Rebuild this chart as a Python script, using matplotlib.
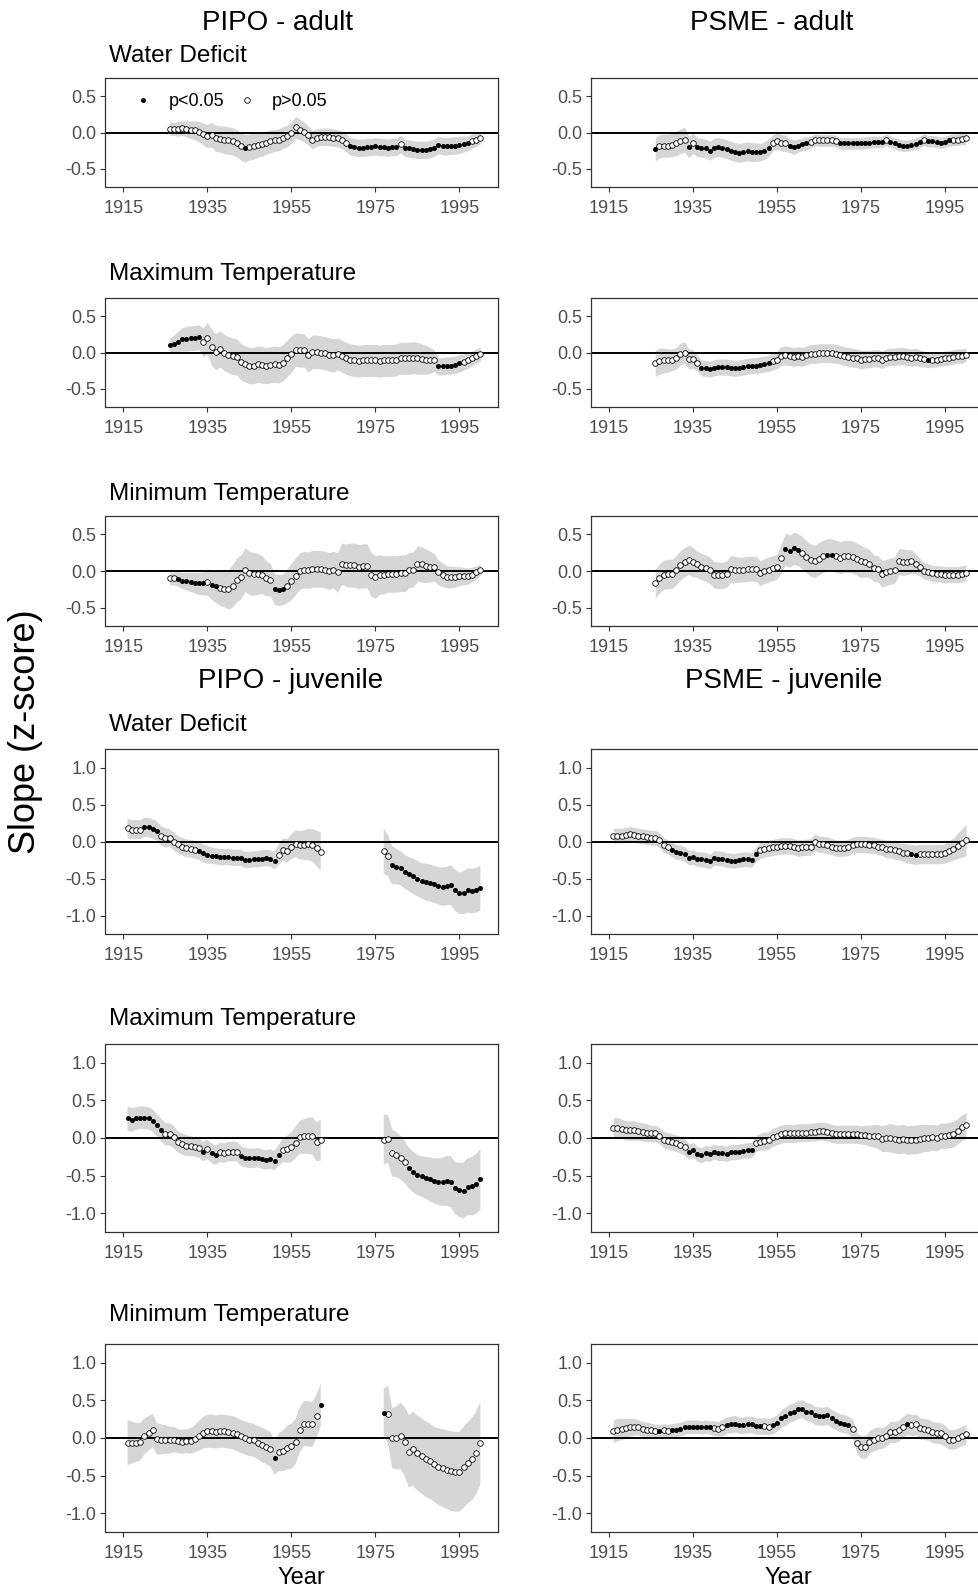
import numpy as np
import matplotlib.pyplot as plt
from matplotlib.lines import Line2D

plt.rcParams['font.family'] = ['Liberation Sans', 'DejaVu Sans']

nan = np.nan
adult_years = np.arange(1926, 2001)
juv_years = np.arange(1916, 2001)

# ---------------- PIPO adult ----------------
pa_wd = [0.05, 0.05, 0.05, 0.06, 0.05, 0.04, 0.03, 0.01, -0.02, -0.05,
         -0.03, -0.08, -0.09, -0.10, -0.11, -0.12, -0.15, -0.19, -0.22, -0.20,
         -0.19, -0.17, -0.16, -0.14, -0.12, -0.11, -0.10, -0.07, -0.05, 0.00,
         0.07, 0.04, 0.01, -0.04, -0.10, -0.07, -0.06, -0.06, -0.06, -0.07,
         -0.08, -0.10, -0.14, -0.19, -0.20, -0.21, -0.21, -0.20, -0.20, -0.19,
         -0.20, -0.20, -0.21, -0.20, -0.20, -0.16, -0.21, -0.22, -0.23, -0.24,
         -0.24, -0.24, -0.23, -0.21, -0.17, -0.19, -0.19, -0.18, -0.18, -0.17,
         -0.16, -0.15, -0.12, -0.10, -0.07]
pa_wd_ci = [0.09, 0.09, 0.10, 0.10, 0.11, 0.12, 0.13, 0.14, 0.15, 0.16,
            0.17, 0.18, 0.18, 0.19, 0.19, 0.19, 0.19, 0.19, 0.19, 0.18,
            0.18, 0.17, 0.17, 0.16, 0.16, 0.15, 0.15, 0.15, 0.15, 0.15,
            0.15, 0.14, 0.14, 0.13, 0.13, 0.12, 0.12, 0.12, 0.12, 0.12,
            0.12, 0.12, 0.12, 0.12, 0.12, 0.12, 0.12, 0.12, 0.12, 0.12,
            0.12, 0.12, 0.12, 0.12, 0.12, 0.12, 0.12, 0.12, 0.12, 0.12,
            0.12, 0.12, 0.12, 0.12, 0.12, 0.12, 0.12, 0.12, 0.12, 0.12,
            0.11, 0.10, 0.10, 0.09, 0.09]
pa_wd_sig = [1944, *range(1969, 1981), *range(1982, 1998)]

pa_tmax = [0.10, 0.12, 0.15, 0.18, 0.19, 0.20, 0.20, 0.21, 0.14, 0.20,
           0.07, 0.01, 0.05, 0.00, -0.03, -0.05, -0.06, -0.13, -0.16, -0.18,
           -0.18, -0.16, -0.17, -0.18, -0.17, -0.16, -0.17, -0.14, -0.08, -0.02,
           0.04, 0.03, 0.03, -0.04, 0.01, 0.01, 0.00, -0.01, -0.03, -0.04,
           -0.02, -0.05, -0.08, -0.10, -0.11, -0.12, -0.11, -0.11, -0.11, -0.11,
           -0.12, -0.11, -0.11, -0.11, -0.10, -0.08, -0.08, -0.08, -0.07, -0.08,
           -0.09, -0.10, -0.11, -0.11, -0.19, -0.19, -0.18, -0.18, -0.17, -0.15,
           -0.13, -0.11, -0.08, -0.05, -0.02]
pa_tmax_ci = [0.10, 0.12, 0.14, 0.16, 0.17, 0.17, 0.17, 0.17, 0.20, 0.22,
              0.25, 0.25, 0.25, 0.25, 0.25, 0.25, 0.25, 0.25, 0.25, 0.25,
              0.25, 0.25, 0.25, 0.25, 0.25, 0.25, 0.25, 0.25, 0.25, 0.25,
              0.23, 0.23, 0.23, 0.23, 0.23, 0.23, 0.23, 0.23, 0.23, 0.23,
              0.22, 0.22, 0.22, 0.22, 0.22, 0.22, 0.22, 0.22, 0.22, 0.22,
              0.22, 0.22, 0.22, 0.22, 0.22, 0.22, 0.22, 0.22, 0.22, 0.22,
              0.21, 0.20, 0.18, 0.15, 0.12, 0.12, 0.12, 0.12, 0.12, 0.12,
              0.11, 0.11, 0.10, 0.10, 0.10]
pa_tmax_sig = [*range(1926, 1934), *range(1990, 1996)]

pa_tmin = [-0.10, -0.10, -0.11, -0.13, -0.14, -0.15, -0.16, -0.17, -0.17, -0.15,
           -0.19, -0.21, -0.23, -0.24, -0.25, -0.20, -0.12, -0.08, 0.02, -0.03,
           -0.04, -0.04, -0.05, -0.10, -0.12, -0.25, -0.26, -0.25, -0.20, -0.14,
           -0.07, 0.00, 0.02, 0.01, 0.03, 0.03, 0.03, 0.02, 0.00, 0.02,
           -0.02, 0.10, 0.08, 0.08, 0.08, 0.06, 0.07, 0.07, -0.05, -0.08,
           -0.05, -0.05, -0.04, -0.04, -0.04, -0.03, -0.03, 0.01, 0.02, 0.10,
           0.09, 0.07, 0.06, 0.05, -0.02, -0.05, -0.08, -0.08, -0.08, -0.07,
           -0.07, -0.07, -0.05, -0.02, 0.02]
pa_tmin_ci = [0.09, 0.09, 0.10, 0.11, 0.12, 0.13, 0.14, 0.15, 0.16, 0.18,
              0.20, 0.22, 0.24, 0.25, 0.27, 0.29, 0.30, 0.30, 0.30, 0.30,
              0.29, 0.28, 0.26, 0.24, 0.22, 0.21, 0.21, 0.21, 0.23, 0.25,
              0.25, 0.25, 0.25, 0.25, 0.25, 0.25, 0.25, 0.25, 0.25, 0.25,
              0.27, 0.28, 0.29, 0.30, 0.30, 0.30, 0.30, 0.30, 0.30, 0.29,
              0.27, 0.26, 0.25, 0.25, 0.25, 0.25, 0.25, 0.24, 0.24, 0.24,
              0.24, 0.23, 0.21, 0.19, 0.17, 0.16, 0.15, 0.15, 0.14, 0.13,
              0.12, 0.11, 0.10, 0.09, 0.08]
pa_tmin_sig = [*range(1928, 1935), 1936, 1937, 1951, 1952, 1953]

# ---------------- PSME adult ----------------
sa_wd = [-0.23, -0.19, -0.18, -0.18, -0.17, -0.15, -0.12, -0.10, -0.20, -0.15,
         -0.20, -0.21, -0.22, -0.25, -0.21, -0.20, -0.21, -0.23, -0.25, -0.27,
         -0.28, -0.27, -0.26, -0.27, -0.27, -0.27, -0.25, -0.21, -0.14, -0.12,
         -0.14, -0.15, -0.18, -0.20, -0.18, -0.16, -0.15, -0.13, -0.10, -0.11,
         -0.11, -0.11, -0.11, -0.12, -0.15, -0.15, -0.15, -0.15, -0.15, -0.15,
         -0.14, -0.14, -0.13, -0.13, -0.13, -0.10, -0.13, -0.15, -0.17, -0.18,
         -0.18, -0.17, -0.16, -0.13, -0.10, -0.12, -0.12, -0.13, -0.14, -0.13,
         -0.11, -0.10, -0.10, -0.09, -0.08]
sa_wd_ci = [0.16, 0.16, 0.16, 0.16, 0.16, 0.17, 0.17, 0.17, 0.15, 0.14,
            0.13, 0.13, 0.13, 0.13, 0.13, 0.13, 0.13, 0.13, 0.13, 0.13,
            0.13, 0.13, 0.13, 0.13, 0.13, 0.12, 0.12, 0.12, 0.11, 0.11,
            0.11, 0.11, 0.10, 0.10, 0.09, 0.09, 0.09, 0.08, 0.08, 0.08,
            0.08, 0.08, 0.08, 0.08, 0.08, 0.08, 0.08, 0.08, 0.08, 0.08,
            0.08, 0.08, 0.08, 0.08, 0.08, 0.08, 0.08, 0.08, 0.08, 0.08,
            0.08, 0.08, 0.08, 0.08, 0.08, 0.08, 0.08, 0.08, 0.08, 0.08,
            0.08, 0.08, 0.08, 0.08, 0.08]
sa_wd_sig = [1926, 1934, *range(1936, 1954), *range(1958, 1963),
             *range(1970, 1981), *range(1982, 1990), *range(1991, 1997)]

sa_tmax = [-0.15, -0.12, -0.11, -0.11, -0.10, -0.08, -0.02, 0.00, -0.09, -0.09,
           -0.15, -0.21, -0.22, -0.23, -0.21, -0.20, -0.20, -0.20, -0.21, -0.22,
           -0.21, -0.20, -0.19, -0.18, -0.18, -0.17, -0.16, -0.15, -0.12, -0.10,
           -0.05, -0.04, -0.05, -0.06, -0.05, -0.06, -0.04, -0.02, -0.02, -0.01,
           -0.01, -0.01, -0.01, -0.02, -0.03, -0.05, -0.06, -0.07, -0.08, -0.10,
           -0.09, -0.09, -0.08, -0.08, -0.10, -0.07, -0.06, -0.06, -0.05, -0.05,
           -0.06, -0.07, -0.06, -0.08, -0.09, -0.11, -0.10, -0.10, -0.09, -0.08,
           -0.07, -0.06, -0.05, -0.05, -0.03]
sa_tmax_ci = [0.18, 0.18, 0.17, 0.16, 0.15, 0.15, 0.15, 0.15, 0.14, 0.13,
              0.11, 0.11, 0.11, 0.11, 0.11, 0.11, 0.11, 0.11, 0.11, 0.11,
              0.11, 0.11, 0.11, 0.11, 0.11, 0.11, 0.11, 0.11, 0.12, 0.12,
              0.13, 0.13, 0.13, 0.13, 0.13, 0.13, 0.13, 0.13, 0.13, 0.13,
              0.13, 0.13, 0.13, 0.13, 0.13, 0.13, 0.13, 0.13, 0.13, 0.13,
              0.12, 0.12, 0.12, 0.12, 0.12, 0.12, 0.12, 0.12, 0.12, 0.12,
              0.12, 0.12, 0.12, 0.12, 0.11, 0.10, 0.10, 0.10, 0.10, 0.10,
              0.10, 0.10, 0.10, 0.10, 0.09]
sa_tmax_sig = [*range(1937, 1954), 1991]

sa_tmin = [-0.17, -0.10, -0.05, -0.04, -0.04, 0.01, 0.08, 0.12, 0.15, 0.12,
           0.09, 0.06, 0.04, 0.01, -0.05, -0.06, -0.06, -0.04, 0.03, 0.02,
           0.02, 0.02, 0.03, 0.03, 0.03, -0.03, 0.00, 0.02, 0.04, 0.06,
           0.18, 0.30, 0.27, 0.31, 0.29, 0.25, 0.19, 0.15, 0.13, 0.17,
           0.20, 0.22, 0.22, 0.20, 0.18, 0.20, 0.20, 0.19, 0.16, 0.13,
           0.12, 0.10, 0.04, 0.03, -0.04, -0.02, 0.00, 0.01, 0.13, 0.12,
           0.12, 0.13, 0.10, 0.05, 0.00, -0.01, -0.03, -0.04, -0.04, -0.05,
           -0.05, -0.05, -0.05, -0.04, -0.03]
sa_tmin_ci = [0.20, 0.20, 0.20, 0.20, 0.20, 0.20, 0.20, 0.20, 0.20, 0.20,
              0.18, 0.18, 0.18, 0.18, 0.18, 0.18, 0.18, 0.18, 0.18, 0.18,
              0.17, 0.17, 0.17, 0.17, 0.17, 0.17, 0.17, 0.17, 0.17, 0.17,
              0.20, 0.22, 0.22, 0.22, 0.22, 0.22, 0.22, 0.22, 0.22, 0.22,
              0.22, 0.22, 0.22, 0.22, 0.22, 0.22, 0.22, 0.22, 0.22, 0.22,
              0.20, 0.19, 0.18, 0.18, 0.18, 0.18, 0.18, 0.18, 0.18, 0.18,
              0.17, 0.16, 0.14, 0.12, 0.11, 0.11, 0.11, 0.11, 0.11, 0.11,
              0.11, 0.11, 0.11, 0.11, 0.11]
sa_tmin_sig = [1957, 1958, 1959, 1960, 1967, 1968]

# ---------------- PIPO juvenile (no data 1963-1976) ----------------
pj_wd = [0.18, 0.16, 0.16, 0.16, 0.19, 0.19, 0.17, 0.14, 0.08, 0.05,
         0.05, 0.00, -0.04, -0.07, -0.09, -0.10, -0.11, -0.13, -0.16, -0.18,
         -0.19, -0.20, -0.21, -0.21, -0.21, -0.22, -0.22, -0.22, -0.25, -0.25,
         -0.24, -0.24, -0.23, -0.22, -0.23, -0.26, -0.18, -0.11, -0.13, -0.07,
         -0.03, -0.05, -0.05, -0.04, -0.05, -0.09, -0.14,
         nan, nan, nan, nan, nan, nan, nan, nan, nan, nan, nan, nan, nan, nan,
         -0.13, -0.19, -0.32, -0.34, -0.36, -0.41, -0.44, -0.47, -0.50, -0.53,
         -0.55, -0.56, -0.58, -0.60, -0.61, -0.60, -0.59, -0.66, -0.70, -0.69,
         -0.66, -0.67, -0.66, -0.63]
pj_wd_ci = [0.13, 0.13, 0.13, 0.13, 0.13, 0.13, 0.13, 0.13, 0.13, 0.13,
            0.12, 0.12, 0.12, 0.12, 0.12, 0.12, 0.12, 0.12, 0.12, 0.12,
            0.11, 0.11, 0.11, 0.11, 0.11, 0.11, 0.11, 0.11, 0.11, 0.11,
            0.11, 0.11, 0.11, 0.11, 0.11, 0.12, 0.14, 0.15, 0.16, 0.17,
            0.18, 0.19, 0.20, 0.21, 0.22, 0.24, 0.26,
            nan, nan, nan, nan, nan, nan, nan, nan, nan, nan, nan, nan, nan, nan,
            0.30, 0.28, 0.26, 0.24, 0.23, 0.23, 0.23, 0.24, 0.24, 0.24,
            0.25, 0.25, 0.25, 0.25, 0.26, 0.26, 0.27, 0.28, 0.28, 0.29,
            0.30, 0.30, 0.30, 0.30]
pj_wd_sig = [1920, 1921, 1922, 1923, *range(1933, 1952), *range(1979, 2001)]

pj_tmax = [0.26, 0.24, 0.26, 0.27, 0.27, 0.26, 0.23, 0.17, 0.11, 0.05,
           0.05, 0.01, -0.05, -0.08, -0.10, -0.11, -0.12, -0.13, -0.18, -0.15,
           -0.20, -0.23, -0.19, -0.20, -0.18, -0.18, -0.18, -0.24, -0.26, -0.27,
           -0.27, -0.26, -0.28, -0.29, -0.28, -0.30, -0.23, -0.16, -0.15, -0.12,
           -0.06, 0.01, 0.02, 0.03, 0.03, -0.05, -0.03,
           nan, nan, nan, nan, nan, nan, nan, nan, nan, nan, nan, nan, nan, nan,
           -0.02, -0.01, -0.20, -0.22, -0.26, -0.32, -0.40, -0.45, -0.49, -0.51,
           -0.53, -0.55, -0.57, -0.58, -0.58, -0.57, -0.58, -0.67, -0.69, -0.70,
           -0.65, -0.64, -0.61, -0.55]
pj_tmax_ci = [0.16, 0.16, 0.15, 0.15, 0.15, 0.15, 0.15, 0.15, 0.15, 0.15,
              0.15, 0.15, 0.14, 0.14, 0.14, 0.13, 0.13, 0.13, 0.13, 0.13,
              0.13, 0.13, 0.13, 0.13, 0.13, 0.13, 0.13, 0.13, 0.13, 0.13,
              0.13, 0.13, 0.13, 0.13, 0.13, 0.13, 0.14, 0.16, 0.18, 0.20,
              0.21, 0.22, 0.23, 0.24, 0.25, 0.26, 0.27,
              nan, nan, nan, nan, nan, nan, nan, nan, nan, nan, nan, nan, nan, nan,
              0.33, 0.32, 0.31, 0.30, 0.29, 0.28, 0.27, 0.27, 0.27, 0.27,
              0.28, 0.29, 0.30, 0.31, 0.32, 0.33, 0.34, 0.35, 0.36, 0.37,
              0.38, 0.39, 0.40, 0.40]
pj_tmax_sig = [*range(1916, 1925), 1934, 1936, 1937, *range(1943, 1953),
               *range(1983, 2001)]

pj_tmin = [-0.06, -0.06, -0.06, -0.05, 0.02, 0.06, 0.10, -0.01, -0.02, -0.02,
           -0.03, -0.02, -0.04, -0.05, -0.04, -0.04, -0.01, 0.03, 0.07, 0.09,
           0.09, 0.08, 0.09, 0.09, 0.08, 0.07, 0.05, 0.02, 0.00, -0.02,
           -0.03, -0.06, -0.09, -0.12, -0.15, -0.26, -0.19, -0.17, -0.13, -0.11,
           -0.05, 0.11, 0.19, 0.19, 0.18, 0.29, 0.44,
           nan, nan, nan, nan, nan, nan, nan, nan, nan, nan, nan, nan, nan, nan,
           0.33, 0.32, 0.00, 0.00, 0.03, -0.05, -0.18, -0.14, -0.20, -0.24,
           -0.28, -0.31, -0.35, -0.38, -0.40, -0.42, -0.44, -0.45, -0.45, -0.39,
           -0.33, -0.28, -0.20, -0.07]
pj_tmin_ci = [0.30, 0.28, 0.26, 0.25, 0.24, 0.23, 0.22, 0.21, 0.20, 0.19,
              0.18, 0.17, 0.16, 0.16, 0.16, 0.17, 0.18, 0.20, 0.21, 0.22,
              0.22, 0.22, 0.22, 0.22, 0.22, 0.22, 0.22, 0.22, 0.22, 0.22,
              0.22, 0.22, 0.23, 0.23, 0.23, 0.23, 0.25, 0.27, 0.29, 0.30,
              0.30, 0.30, 0.30, 0.30, 0.30, 0.29, 0.28,
              nan, nan, nan, nan, nan, nan, nan, nan, nan, nan, nan, nan, nan, nan,
              0.32, 0.38, 0.40, 0.42, 0.44, 0.46, 0.48, 0.49, 0.50, 0.50,
              0.50, 0.50, 0.50, 0.51, 0.52, 0.52, 0.53, 0.53, 0.53, 0.54,
              0.54, 0.55, 0.55, 0.55]
pj_tmin_sig = [1951, 1962, 1977]

# ---------------- PSME juvenile ----------------
sj_wd = [0.08, 0.08, 0.08, 0.09, 0.10, 0.09, 0.08, 0.07, 0.06, 0.05,
         0.05, 0.02, -0.05, -0.07, -0.11, -0.14, -0.15, -0.17, -0.22, -0.21,
         -0.24, -0.24, -0.25, -0.27, -0.22, -0.23, -0.23, -0.25, -0.26, -0.26,
         -0.25, -0.24, -0.24, -0.25, -0.17, -0.12, -0.10, -0.09, -0.08, -0.07,
         -0.06, -0.06, -0.06, -0.07, -0.09, -0.08, -0.08, -0.07, -0.01, -0.04,
         -0.04, -0.05, -0.07, -0.09, -0.09, -0.09, -0.08, -0.05, -0.04, -0.04,
         -0.04, -0.05, -0.05, -0.07, -0.08, -0.10, -0.10, -0.12, -0.13, -0.15,
         -0.16, -0.17, -0.18, -0.17, -0.17, -0.17, -0.17, -0.17, -0.17, -0.16,
         -0.13, -0.10, -0.06, -0.02, 0.02]
sj_wd_ci = [0.10, 0.10, 0.10, 0.10, 0.10, 0.10, 0.10, 0.10, 0.10, 0.10,
            0.10, 0.10, 0.10, 0.10, 0.10, 0.10, 0.10, 0.10, 0.10, 0.10,
            0.10, 0.10, 0.10, 0.10, 0.10, 0.10, 0.10, 0.10, 0.10, 0.10,
            0.10, 0.10, 0.10, 0.10, 0.10, 0.11, 0.11, 0.11, 0.11, 0.11,
            0.11, 0.11, 0.11, 0.11, 0.11, 0.11, 0.11, 0.11, 0.11, 0.11,
            0.11, 0.11, 0.11, 0.11, 0.11, 0.11, 0.11, 0.11, 0.11, 0.11,
            0.11, 0.11, 0.11, 0.11, 0.11, 0.12, 0.12, 0.12, 0.12, 0.12,
            0.13, 0.13, 0.13, 0.13, 0.13, 0.13, 0.13, 0.13, 0.13, 0.13,
            0.14, 0.15, 0.17, 0.19, 0.21]
sj_wd_sig = [*range(1930, 1951), 1987, 1988]

sj_tmax = [0.13, 0.13, 0.12, 0.10, 0.10, 0.10, 0.09, 0.08, 0.07, 0.06,
           0.06, 0.03, -0.02, -0.04, -0.05, -0.07, -0.09, -0.12, -0.18, -0.16,
           -0.21, -0.23, -0.20, -0.21, -0.18, -0.20, -0.20, -0.21, -0.19, -0.19,
           -0.18, -0.17, -0.16, -0.16, -0.07, -0.05, -0.04, -0.03, 0.01, 0.03,
           0.05, 0.06, 0.06, 0.06, 0.07, 0.07, 0.07, 0.08, 0.08, 0.09,
           0.09, 0.08, 0.06, 0.05, 0.05, 0.05, 0.05, 0.05, 0.05, 0.04,
           0.04, 0.03, 0.03, 0.02, -0.01, 0.00, 0.00, -0.01, -0.02, -0.01,
           -0.03, -0.02, -0.02, -0.01, 0.00, 0.00, 0.01, 0.00, 0.03, 0.03,
           0.04, 0.05, 0.09, 0.14, 0.17]
sj_tmax_ci = [0.14, 0.14, 0.13, 0.13, 0.13, 0.13, 0.12, 0.12, 0.12, 0.11,
              0.11, 0.11, 0.11, 0.11, 0.11, 0.11, 0.11, 0.11, 0.10, 0.10,
              0.10, 0.10, 0.10, 0.10, 0.10, 0.10, 0.10, 0.10, 0.10, 0.10,
              0.10, 0.10, 0.10, 0.10, 0.11, 0.11, 0.12, 0.12, 0.12, 0.12,
              0.12, 0.12, 0.12, 0.12, 0.12, 0.12, 0.12, 0.12, 0.12, 0.12,
              0.12, 0.12, 0.12, 0.12, 0.12, 0.12, 0.12, 0.12, 0.12, 0.12,
              0.13, 0.14, 0.15, 0.16, 0.17, 0.18, 0.19, 0.19, 0.19, 0.19,
              0.19, 0.19, 0.19, 0.19, 0.18, 0.18, 0.17, 0.17, 0.17, 0.17,
              0.17, 0.17, 0.17, 0.17, 0.17]
sj_tmax_sig = [*range(1934, 1950)]

sj_tmin = [0.09, 0.11, 0.12, 0.13, 0.14, 0.15, 0.14, 0.12, 0.11, 0.10,
           0.09, 0.09, 0.10, 0.09, 0.10, 0.11, 0.12, 0.14, 0.15, 0.15,
           0.15, 0.14, 0.15, 0.14, 0.13, 0.12, 0.14, 0.17, 0.18, 0.19,
           0.17, 0.17, 0.18, 0.18, 0.16, 0.16, 0.16, 0.15, 0.17, 0.20,
           0.26, 0.29, 0.33, 0.35, 0.38, 0.39, 0.35, 0.34, 0.30, 0.29,
           0.29, 0.30, 0.26, 0.23, 0.20, 0.19, 0.17, 0.12, -0.07, -0.12,
           -0.12, -0.05, -0.02, 0.00, 0.00, 0.03, 0.08, 0.08, 0.10, 0.15,
           0.19, 0.17, 0.18, 0.13, 0.12, 0.11, 0.08, 0.07, 0.06, 0.03,
           -0.02, -0.02, 0.00, 0.03, 0.05]
sj_tmin_ci = [0.15, 0.15, 0.14, 0.13, 0.12, 0.11, 0.10, 0.10, 0.10, 0.10,
              0.09, 0.09, 0.09, 0.09, 0.09, 0.09, 0.09, 0.09, 0.09, 0.09,
              0.09, 0.09, 0.09, 0.09, 0.10, 0.10, 0.11, 0.11, 0.11, 0.11,
              0.11, 0.11, 0.11, 0.11, 0.11, 0.11, 0.11, 0.11, 0.11, 0.11,
              0.12, 0.12, 0.12, 0.12, 0.12, 0.12, 0.12, 0.12, 0.12, 0.12,
              0.12, 0.12, 0.12, 0.12, 0.12, 0.12, 0.12, 0.13, 0.14, 0.15,
              0.15, 0.15, 0.15, 0.15, 0.14, 0.14, 0.14, 0.14, 0.14, 0.14,
              0.14, 0.14, 0.14, 0.14, 0.14, 0.14, 0.14, 0.14, 0.14, 0.14,
              0.13, 0.13, 0.13, 0.13, 0.13]
sj_tmin_sig = [1927, *range(1930, 1940), *range(1943, 1952),
               *range(1954, 1973), 1986]

# ---------------- layout (pixels of a 979 x 1591 canvas) ----------------
W, H = 979, 1591
rows = [(78, 187), (298, 407), (516, 626), (749, 934), (1044, 1232), (1344, 1532)]
cols = [(105.5, 498.2), (591.2, 983.9)]
RIBBON = '#d6d6d6'
TICKC = '#333333'

fig = plt.figure(figsize=(W / 100, H / 100), dpi=100)


def add_ax(col, row):
    l, r = cols[col]
    t, b = rows[row]
    return fig.add_axes([l / W, 1 - b / H, (r - l) / W, (b - t) / H])


def draw_panel(ax, years, vals, ci, sig, juvenile):
    vals = np.array(vals, float)
    ci = np.array(ci, float)
    ax.fill_between(years, vals - ci, vals + ci, color=RIBBON, lw=0, zorder=1)
    ax.axhline(0, color='black', lw=1.4, zorder=2)
    s = np.isin(years, sig)
    ax.scatter(years[~s], vals[~s], s=16, facecolor='white', edgecolor='black',
               linewidths=0.6, zorder=3)
    ax.scatter(years[s], vals[s], s=13, color='black', linewidths=0, zorder=4)
    ax.set_xlim(1910.75, 2004.25)
    ax.set_xticks([1915, 1935, 1955, 1975, 1995])
    if juvenile:
        ax.set_ylim(-1.25, 1.25)
        ax.set_yticks([-1.0, -0.5, 0.0, 0.5, 1.0])
        ax.set_yticklabels(['-1.0', '-0.5', '0.0', '0.5', '1.0'])
    else:
        ax.set_ylim(-0.75, 0.75)
        ax.set_yticks([-0.5, 0.0, 0.5])
        ax.set_yticklabels(['-0.5', '0.0', '0.5'])
    for sp in ax.spines.values():
        sp.set_color(TICKC)
        sp.set_linewidth(0.9)
    ax.tick_params(length=3.5, width=0.8, color=TICKC, labelcolor='#4d4d4d',
                   labelsize=13)
    ax.tick_params(axis='x', pad=6)
    ax.tick_params(axis='y', pad=3)


panels = [
    (0, 0, adult_years, pa_wd, pa_wd_ci, pa_wd_sig, False),
    (0, 1, adult_years, pa_tmax, pa_tmax_ci, pa_tmax_sig, False),
    (0, 2, adult_years, pa_tmin, pa_tmin_ci, pa_tmin_sig, False),
    (1, 0, adult_years, sa_wd, sa_wd_ci, sa_wd_sig, False),
    (1, 1, adult_years, sa_tmax, sa_tmax_ci, sa_tmax_sig, False),
    (1, 2, adult_years, sa_tmin, sa_tmin_ci, sa_tmin_sig, False),
    (0, 3, juv_years, pj_wd, pj_wd_ci, pj_wd_sig, True),
    (0, 4, juv_years, pj_tmax, pj_tmax_ci, pj_tmax_sig, True),
    (0, 5, juv_years, pj_tmin, pj_tmin_ci, pj_tmin_sig, True),
    (1, 3, juv_years, sj_wd, sj_wd_ci, sj_wd_sig, True),
    (1, 4, juv_years, sj_tmax, sj_tmax_ci, sj_tmax_sig, True),
    (1, 5, juv_years, sj_tmin, sj_tmin_ci, sj_tmin_sig, True),
]

axes = {}
for col, row, yrs, v, c, sg, juv in panels:
    ax = add_ax(col, row)
    draw_panel(ax, yrs, v, c, sg, juv)
    axes[(col, row)] = ax

# legend in the first panel
handles = [Line2D([], [], marker='o', ls='', color='black', ms=3.6, mew=0),
           Line2D([], [], marker='o', ls='', mfc='white', mec='black', mew=0.6, ms=4.0)]
axes[(0, 0)].legend(handles, ['p<0.05', 'p>0.05'], ncol=2, loc='center left',
                    bbox_to_anchor=(0.073, 0.784), frameon=False, fontsize=13,
                    handlelength=1.0, handletextpad=0.9, columnspacing=0.75,
                    borderpad=0, borderaxespad=0)


def ftext(x, y, s, **kw):
    fig.text(x / W, 1 - y / H, s, **kw)


ftext(277.5, 23.5, 'PIPO - adult', ha='center', va='center', fontsize=20)
ftext(771.5, 23.5, 'PSME - adult', ha='center', va='center', fontsize=20)
ftext(290.7, 681.0, 'PIPO - juvenile', ha='center', va='center', fontsize=20)
ftext(783.2, 681.0, 'PSME - juvenile', ha='center', va='center', fontsize=20)

subtitles = ['Water Deficit', 'Maximum Temperature', 'Minimum Temperature',
             'Water Deficit', 'Maximum Temperature', 'Minimum Temperature']
sub_y = [56.0, 274.0, 494.0, 725.5, 1019.5, 1315.0]
for s, y in zip(subtitles, sub_y):
    ftext(108.6, y, s, ha='left', va='center', fontsize=17.5)

ftext(25.4, 731.5, 'Slope (z-score)', ha='center', va='center', rotation=90,
      fontsize=26)
ftext(301.3, 1578.5, 'Year', ha='center', va='center', fontsize=17)
ftext(788.3, 1578.5, 'Year', ha='center', va='center', fontsize=17)

fig.savefig('out.png', dpi=100, facecolor='white')
